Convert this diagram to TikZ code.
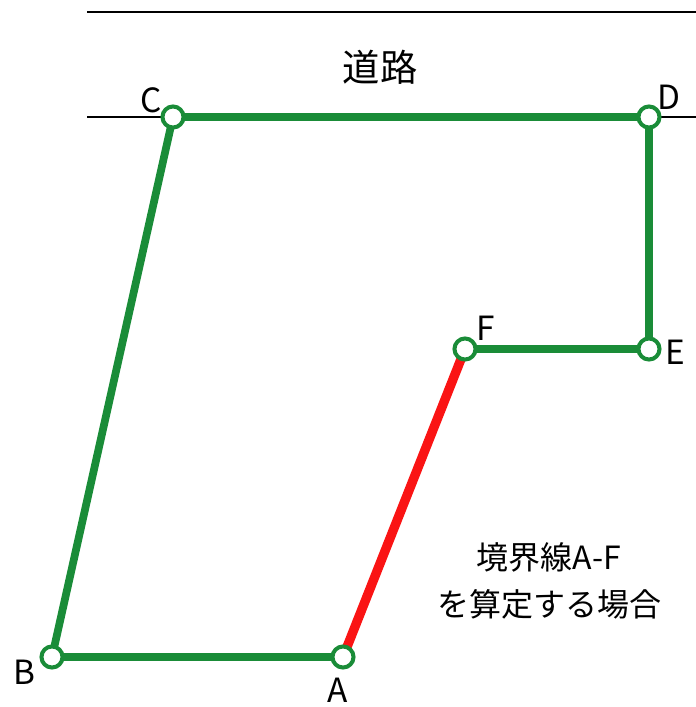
\documentclass[tikz,border=0pt]{standalone}
\usepackage{fontspec}
\setmainfont{Noto Sans CJK JP}
\definecolor{lotgreen}{RGB}{26,140,56}
\definecolor{lotred}{RGB}{250,20,20}
\begin{document}
\begin{tikzpicture}[x=0.75pt,y=-0.75pt,
  vtx/.style={circle,draw=lotgreen,fill=white,line width=3pt,minimum size=15.8pt,inner sep=0pt},
  edge/.style={draw=lotgreen,line width=5.8pt},
  afedge/.style={draw=lotred,line width=7pt},
  lbl/.style={font=\fontsize{25}{28}\selectfont,inner sep=0pt},
  road/.style={draw=black,line width=1.8pt}]
\useasboundingbox (0,0) rectangle (696,707);
\coordinate (t1) at (87,12);
\coordinate (t2) at (696,12);
\coordinate (r1) at (87,117);
\coordinate (r2) at (696,117);
\draw[road] (t1) -- (t2);
\draw[road] (r1) -- (r2);
\coordinate (Cp) at (173,117);
\coordinate (Dp) at (649,117);
\coordinate (Ep) at (649,349);
\coordinate (Fp) at (465,349);
\coordinate (Ap) at (343,657);
\coordinate (Bp) at (52,657);
\draw[edge] (Ap) -- (Bp) -- (Cp) -- (Dp) -- (Ep) -- (Fp);
\draw[afedge] (Fp) -- (Ap);
\node[vtx] (A) at (Ap) {};
\node[vtx] (B) at (Bp) {};
\node[vtx] (C) at (Cp) {};
\node[vtx] (D) at (Dp) {};
\node[vtx] (E) at (Ep) {};
\node[vtx] (F) at (Fp) {};
\node[lbl] (lC) at (151,100) {C};
\node[lbl] (lD) at (669,97) {D};
\node[lbl] (lE) at (675,352) {E};
\node[lbl] (lF) at (486,328) {F};
\node[lbl] (lB) at (24,672) {B};
\node[lbl] (lA) at (338,690) {A};
\node[lbl,font=\fontsize{28}{30}\selectfont] (road) at (380,67) {道路};
\node[lbl,align=center,font=\fontsize{24}{35}\selectfont] (note) at (549,581) {境界線A-F\\を算定する場合};
\end{tikzpicture}
\end{document}
